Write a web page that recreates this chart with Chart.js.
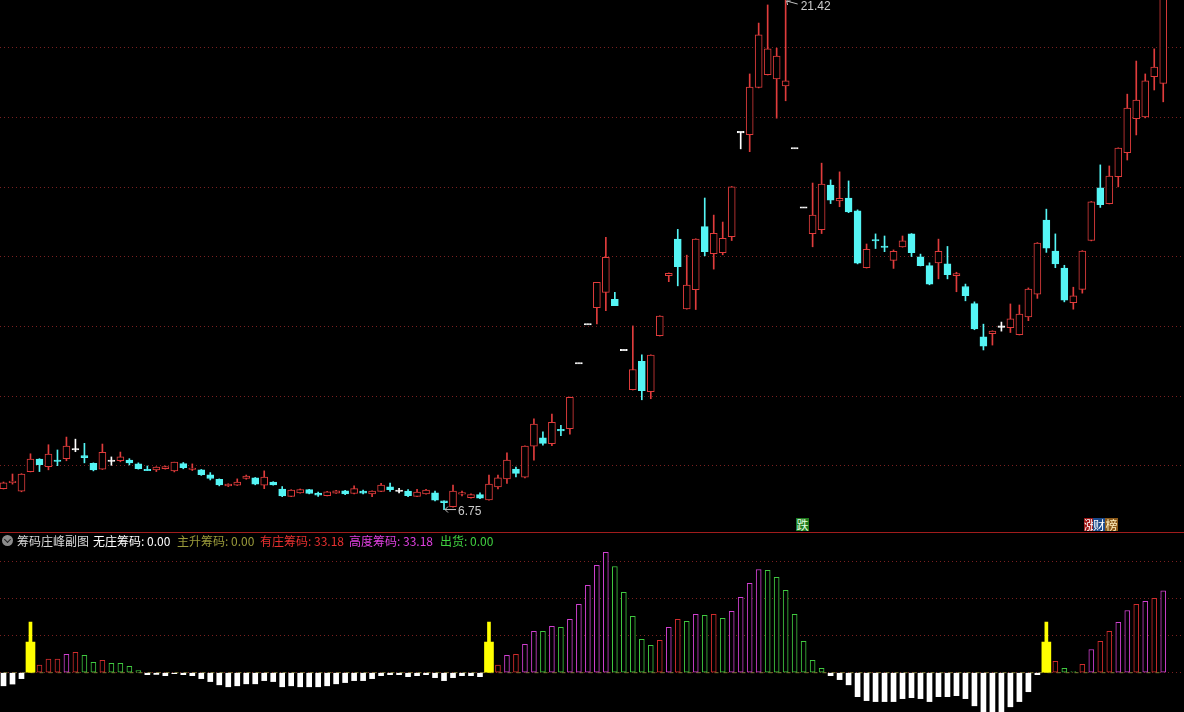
<!DOCTYPE html>
<html>
<head>
<meta charset="utf-8">
<script src="https://cdn.jsdelivr.net/npm/chart.js@4/dist/chart.umd.min.js"></script>
<style>
    body { margin: 0; background: #000; width: 1184px; height: 712px; overflow: hidden; position: relative;
           font-family: "Noto Sans CJK SC", "Liberation Sans", sans-serif; }
    #price { position: absolute; left: 0; top: 0; }
    #chip { position: absolute; left: 0; top: 533px; }
    #sep { position: absolute; left: 0; top: 532px; width: 1184px; height: 1px; background: #a01c1c; }
    .lg { position: absolute; top: 533px; height: 16px; font-size: 12px; line-height: 16px; white-space: nowrap; }
    .tag { position: absolute; top: 518px; height: 13px; font-size: 12px; line-height: 13px; overflow: hidden; text-align: center; }
    #icon { position: absolute; left: 2px; top: 535px; width: 11px; height: 11px; border-radius: 6px; background: #8c8c8c; }
    #icon div { position: absolute; left: 3px; top: 2px; width: 4px; height: 4px; border-right: 1.5px solid #222; border-bottom: 1.5px solid #222; transform: rotate(45deg); }
</style>
</head>
<body>
<canvas id="price" width="1184" height="532"></canvas>
<div id="sep"></div>
<canvas id="chip" width="1184" height="179"></canvas>

<div id="icon"><div></div></div>
<span class="lg" style="left:17px;color:#d8d8d8">筹码庄峰副图</span>
<span class="lg" style="left:93px;color:#ffffff">无庄筹码: 0.00</span>
<span class="lg" style="left:177px;color:#9a9a3a">主升筹码: 0.00</span>
<span class="lg" style="left:260px;color:#e83030">有庄筹码: 33.18</span>
<span class="lg" style="left:349px;color:#e040e0">高度筹码: 33.18</span>
<span class="lg" style="left:440px;color:#40d040">出货: 0.00</span>

<span class="tag" style="left:796px;width:13px;background:#1e7a1e;color:#e0ffe0">跌</span>
<span class="tag" style="left:1084px;width:9px;background:#a01818;color:#ffffff;text-align:left">涨</span>
<span class="tag" style="left:1093px;width:12px;background:#1a4a8c;color:#ffffff">财</span>
<span class="tag" style="left:1105px;width:13px;background:#8c5a1a;color:#fff0c0">榜</span>

<script>
"use strict";

// daily prices, one entry per trading day
var priceOpen = [7.35, 7.53, 7.28, 7.84, 8.20, 7.98, 8.16, 8.21, 8.48, 8.30,
    8.08, 7.91, 8.15, 8.15, 8.17, 8.06, 7.89, 7.89, 7.92, 7.86,
    8.07, 7.91, 7.89, 7.75, 7.62, 7.43, 7.45, 7.64, 7.66, 7.45,
    7.54, 7.34, 7.13, 7.23, 7.32, 7.22, 7.15, 7.22, 7.29, 7.21,
    7.28, 7.20, 7.27, 7.40, 7.29, 7.28, 7.13, 7.20, 7.23, 7.00,
    6.83, 7.20, 7.09, 7.18, 7.03, 7.40, 7.63, 7.91, 7.68, 8.57,
    8.81, 8.64, 9.04, 9.07, 10.95, 12.07, 12.54, 12.98, 12.78, 11.33,
    10.19, 11.00, 10.13, 11.74, 13.46, 14.51, 12.51, 13.06, 14.87, 14.09,
    14.12, 14.58, 17.58, 17.51, 18.86, 19.23, 19.11, 18.91, 17.12, 15.42,
    14.67, 14.78, 16.06, 15.61, 15.69, 15.32, 13.69, 14.49, 14.30, 13.90,
    14.29, 14.66, 14.00, 13.75, 13.83, 13.80, 13.46, 13.15, 12.66, 11.71,
    11.80, 12.00, 11.97, 11.77, 12.28, 12.93, 15.06, 14.17, 13.68, 12.69,
    13.07, 14.47, 15.98, 15.53, 16.30, 16.99, 17.97, 18.02, 19.17, 18.98];
var priceHigh = [7.54, 7.77, 7.78, 8.35, 8.21, 8.61, 8.46, 8.83, 8.77, 8.65,
    8.09, 8.63, 8.26, 8.40, 8.21, 8.09, 8.00, 7.98, 8.00, 8.11,
    8.10, 8.06, 7.90, 7.81, 7.63, 7.49, 7.63, 7.74, 7.67, 7.86,
    7.55, 7.41, 7.32, 7.34, 7.33, 7.25, 7.27, 7.30, 7.30, 7.43,
    7.31, 7.29, 7.50, 7.51, 7.36, 7.32, 7.33, 7.33, 7.28, 7.00,
    7.45, 7.28, 7.20, 7.23, 7.74, 7.74, 8.38, 7.97, 8.58, 9.35,
    8.98, 9.49, 9.17, 9.98, 10.95, 12.07, 13.27, 14.56, 12.98, 11.33,
    12.02, 11.19, 11.19, 12.31, 13.54, 14.79, 14.05, 14.52, 15.69, 15.20,
    15.00, 16.02, 17.58, 19.25, 20.71, 21.23, 19.99, 21.42, 17.12, 15.42,
    16.12, 16.69, 16.21, 16.44, 16.18, 15.35, 14.37, 14.66, 14.60, 14.20,
    14.60, 14.67, 14.08, 13.83, 14.51, 14.30, 13.56, 13.22, 12.71, 12.07,
    11.88, 12.13, 12.65, 12.62, 13.11, 14.41, 15.37, 14.66, 13.76, 13.13,
    14.18, 15.59, 16.64, 16.61, 17.13, 18.67, 19.62, 19.25, 19.97, 21.45];
var priceLow = [7.34, 7.48, 7.26, 7.83, 7.84, 7.89, 8.01, 8.15, 8.41, 8.09,
    7.86, 7.90, 8.02, 8.12, 8.03, 7.91, 7.87, 7.84, 7.91, 7.83,
    7.92, 7.87, 7.73, 7.60, 7.43, 7.41, 7.44, 7.62, 7.46, 7.35,
    7.45, 7.12, 7.12, 7.22, 7.20, 7.13, 7.14, 7.21, 7.18, 7.20,
    7.20, 7.12, 7.26, 7.27, 7.23, 7.12, 7.12, 7.19, 7.00, 6.75,
    6.82, 7.14, 7.08, 7.06, 7.02, 7.34, 7.50, 7.69, 7.66, 8.17,
    8.60, 8.58, 8.87, 8.91, 10.95, 12.07, 12.08, 12.46, 12.60, 11.33,
    10.18, 9.90, 9.93, 11.73, 13.29, 13.17, 12.50, 12.49, 14.03, 13.65,
    14.06, 14.47, 17.10, 17.02, 18.85, 19.22, 17.98, 18.48, 17.12, 15.42,
    14.29, 14.67, 15.53, 15.44, 15.27, 13.80, 13.68, 14.24, 14.15, 13.67,
    14.28, 14.01, 13.74, 13.20, 13.37, 13.37, 13.00, 12.74, 11.91, 11.33,
    11.47, 11.87, 11.83, 11.76, 12.17, 12.81, 14.13, 13.69, 12.71, 12.50,
    12.96, 14.46, 15.42, 15.52, 16.01, 16.78, 17.50, 17.99, 18.79, 18.45];
var priceClose = [7.52, 7.56, 7.77, 8.20, 8.04, 8.34, 8.14, 8.57, 8.48, 8.24,
    7.89, 8.39, 8.15, 8.26, 8.09, 7.92, 7.88, 7.97, 7.98, 8.11,
    7.95, 7.93, 7.75, 7.64, 7.46, 7.48, 7.54, 7.71, 7.48, 7.68,
    7.46, 7.14, 7.31, 7.32, 7.21, 7.16, 7.26, 7.29, 7.20, 7.35,
    7.22, 7.28, 7.45, 7.32, 7.29, 7.15, 7.25, 7.31, 7.02, 6.95,
    7.28, 7.23, 7.18, 7.08, 7.48, 7.66, 8.17, 7.79, 8.57, 9.20,
    8.65, 9.25, 9.02, 9.97, 10.95, 12.07, 13.27, 13.99, 12.60, 11.33,
    10.77, 10.16, 11.18, 12.30, 13.53, 13.72, 13.19, 14.51, 14.15, 14.68,
    14.53, 16.01, 17.58, 18.87, 20.37, 19.97, 19.76, 19.05, 17.12, 15.42,
    15.20, 16.09, 15.63, 15.68, 15.29, 13.82, 14.22, 14.47, 14.28, 14.16,
    14.46, 14.12, 13.75, 13.22, 14.16, 13.49, 13.52, 12.89, 11.93, 11.44,
    11.87, 12.00, 12.22, 12.36, 13.08, 14.40, 14.25, 13.80, 12.76, 12.88,
    14.17, 15.58, 15.50, 16.32, 17.12, 18.27, 18.50, 19.05, 19.45, 21.45];
var priceGrid = [8, 10, 12, 14, 16, 18, 20];

// 筹码 indicator: value per day and which line it belongs to
// w = 无庄筹码, r = 有庄筹码, p = 高度筹码, g = 出货, y = signal day
var chipValue = [-5.3, -4.6, -2.4, 0, 3.1, 5.5, 5.5, 7.4, 8.2, 7.0,
    4.2, 5.0, 3.8, 3.8, 2.6, 0.9, -0.8, -0.7, -1.2, -0.4,
    -0.8, -1.2, -2.4, -3.6, -4.9, -5.7, -5.3, -4.5, -4.5, -3.2,
    -3.6, -5.7, -5.3, -5.7, -5.7, -5.7, -5.3, -4.5, -4.0, -3.2,
    -3.2, -2.4, -1.2, -0.8, -0.8, -1.6, -1.2, -0.8, -2.0, -3.2,
    -2.0, -1.2, -1.2, -1.6, 0, 3.1, 7.0, 7.4, 11.5, 16.7,
    16.7, 18.8, 18.4, 21.6, 27.7, 35.4, 43.5, 48.7, 43.0, 32.5,
    22.8, 13.5, 11.1, 13.1, 18.4, 21.6, 20.8, 23.6, 23.2, 23.6,
    22.0, 24.8, 30.5, 36.2, 41.8, 41.4, 38.6, 33.3, 23.6, 12.7,
    5.0, 1.8, -1.2, -2.8, -4.9, -9.7, -11.3, -11.7, -11.7, -11.7,
    -10.5, -10.1, -10.5, -11.7, -9.7, -9.7, -9.3, -10.5, -13.4, -16.5,
    -16.5, -16.5, -13.8, -11.7, -7.7, -0.8, 0, 4.6, 1.8, 0.5,
    3.4, 9.4, 12.7, 16.7, 20.4, 25.2, 27.7, 28.9, 30.1, 33.18];
var chipKind = ("wwwyrrrprggrgggg" +
    "wwwwwwwwwwwwwwwwwwwwwwwwwwwwwwwwwwwwww" + "y" +
    "rprppgpgppppp" + "ggggg" + "rprgpgrg" + "pppp" + "ggggggg" +
    "wwwwwwwwwwwwwwwwwwwwwwww" + "y" + "rggrprrpprprp").split("");
var signalIndex = [3, 54, 116];
var signalBody = [12.4, 12.4, 12.4];
var signalPeak = [20.5, 20.5, 20.5];
var chipGrid = [0, 15, 30, 45];

var marks = [
    { index: 87, value: priceHigh[87], text: "21.42", side: "high" },
    { index: 49, value: priceLow[49], text: "6.75", side: "low" }
];

var RED = "#e03c3c";
var CYAN = "#55f5f5";
var GRID = "#7a2020";

var xAxis = {
    type: "linear",
    display: false,
    offset: false,
    min: -0.39,
    max: 131.31,
    grid: { offset: false }
};

var yAxisFor = function(min, max, ticks) {
    return {
        min: min,
        max: max,
        afterFit: function(scale) { scale.width = 0; },
        afterBuildTicks: function(scale) {
            scale.ticks = ticks.map(function(v) { return { value: v }; });
        },
        ticks: { display: false },
        border: { display: false, dash: [1, 3] },
        grid: { color: GRID, drawTicks: false, lineWidth: 1 }
    };
};

var candleColor = function(i) {
    if (priceClose[i] > priceOpen[i]) return RED;
    if (priceClose[i] < priceOpen[i]) return CYAN;
    return "#ffffff";
};

var wicks = [], bodies = [], wickColors = [], bodyFill = [], bodyLine = [];
priceOpen.forEach(function(o, i) {
    var c = priceClose[i];
    var col = candleColor(i);
    wicks.push({ x: i, y: [priceLow[i], priceHigh[i]] });
    var lo = Math.min(o, c), hi = Math.max(o, c);
    if (hi - lo < 0.04) {
        var mid = (hi + lo) / 2;
        lo = mid - 0.02;
        hi = mid + 0.02;
    }
    bodies.push({ x: i, y: [lo, hi] });
    wickColors.push(col);
    bodyLine.push(col);
    bodyFill.push(col === RED ? "#000000" : col);
});

var markPlugin = {
    id: "marks",
    afterDatasetsDraw: function(chart) {
        var ctx = chart.ctx;
        var xs = chart.scales.x, ys = chart.scales.y;
        ctx.save();
        ctx.strokeStyle = "#c0c0c0";
        ctx.fillStyle = "#cccccc";
        ctx.lineWidth = 1;
        ctx.font = "12px 'Liberation Sans', Arial, sans-serif";
        marks.forEach(function(m) {
            var x = xs.getPixelForValue(m.index) + 1;
            var y = Math.max(1, ys.getPixelForValue(m.value));
            ctx.beginPath();
            if (m.side === "high") {
                ctx.moveTo(x, y); ctx.lineTo(x + 11, y + 3);
                ctx.moveTo(x, y); ctx.lineTo(x + 1, y + 4);
                ctx.moveTo(x, y); ctx.lineTo(x + 4, y);
                ctx.stroke();
                ctx.fillText(m.text, x + 14, 9.5);
            } else {
                ctx.moveTo(x, y); ctx.lineTo(x + 11, y);
                ctx.moveTo(x, y); ctx.lineTo(x + 3, y - 3);
                ctx.moveTo(x, y); ctx.lineTo(x + 3, y + 3);
                ctx.stroke();
                ctx.fillText(m.text, x + 13, y + 5.5);
            }
        });
        ctx.restore();
    }
};

var priceChart = new Chart(document.getElementById("price").getContext("2d"), {
    type: "bar",
    data: {
        datasets: [{
            label: "body",
            data: bodies,
            order: 1,
            grouped: false,
            barThickness: 7,
            backgroundColor: bodyFill,
            borderColor: bodyLine,
            borderWidth: 1,
            borderSkipped: false
        }, {
            label: "wick",
            data: wicks,
            order: 2,
            grouped: false,
            barThickness: 1,
            backgroundColor: wickColors,
            borderWidth: 0
        }]
    },
    options: {
        responsive: false,
        animation: false,
        layout: { padding: 0 },
        plugins: { legend: { display: false }, tooltip: { enabled: false } },
        scales: {
            x: xAxis,
            y: yAxisFor(6.106, 21.372, priceGrid)
        }
    },
    plugins: [markPlugin]
});

var kindStyle = {
    w: { label: "无庄筹码", fill: "#ffffff", line: "#ffffff", width: 5 },
    r: { label: "有庄筹码", fill: "#000000", line: "#d02c2c", width: 5 },
    p: { label: "高度筹码", fill: "#000000", line: "#d040d0", width: 5 },
    g: { label: "出货", fill: "#000000", line: "#40c840", width: 5 }
};

var chipSets = [];
Object.keys(kindStyle).forEach(function(k) {
    var pts = [];
    chipValue.forEach(function(v, i) {
        if (chipKind[i] === k) pts.push({ x: i, y: v });
    });
    var st = kindStyle[k];
    chipSets.push({
        type: "bar",
        label: st.label,
        data: pts,
        order: 2,
        grouped: false,
        barThickness: st.width,
        backgroundColor: st.fill,
        borderColor: st.line,
        borderWidth: k === "w" ? 0 : 1,
        borderSkipped: false
    });
});

chipSets.push({
    type: "bar",
    label: "signal",
    data: signalIndex.map(function(x, j) { return { x: x, y: signalBody[j] }; }),
    order: 1,
    grouped: false,
    barThickness: 9,
    backgroundColor: "#ffff00",
    borderWidth: 0
});
chipSets.push({
    type: "bar",
    label: "signalPeak",
    data: signalIndex.map(function(x, j) { return { x: x, y: signalPeak[j] }; }),
    order: 1,
    grouped: false,
    barThickness: 3,
    backgroundColor: "#ffff00",
    borderWidth: 0
});
chipSets.push({
    type: "line",
    label: "主升筹码",
    data: chipValue.map(function(v, i) { return { x: i, y: 0 }; }),
    order: 3,
    borderColor: "#7a7a30",
    borderWidth: 1,
    borderDash: [4, 5],
    pointRadius: 0
});

var chipChart = new Chart(document.getElementById("chip").getContext("2d"), {
    type: "bar",
    data: { datasets: chipSets },
    options: {
        responsive: false,
        animation: false,
        layout: { padding: 0 },
        plugins: { legend: { display: false }, tooltip: { enabled: false } },
        scales: {
            x: xAxis,
            y: yAxisFor(-15.91, 56.56, chipGrid)
        }
    }
});
</script>
</body>
</html>
